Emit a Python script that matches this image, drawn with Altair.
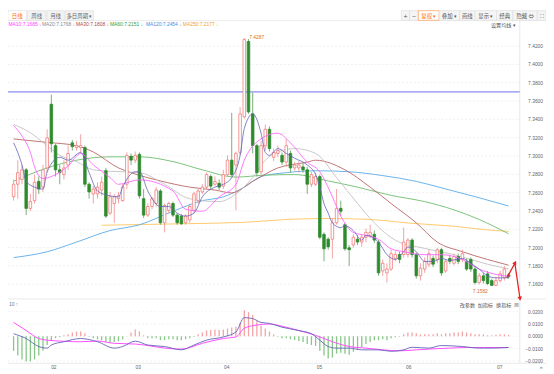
import altair as alt
import pandas as pd

# ---------------- data ----------------
OPEN = [7.2555,7.2692,7.2744,7.2849,7.2428,7.2513,7.2723,7.2660,7.2870,7.3565,
        7.3113,7.2849,7.2797,7.2902,7.3144,7.3092,7.3092,7.3092,7.2692,7.2586,
        7.2586,7.2629,7.2839,7.2376,7.2481,7.2534,7.2513,7.2692,7.2997,7.2955,
        7.3018,7.2534,7.2355,7.2449,7.2481,7.2618,7.2271,7.2407,7.2481,7.2355,
        7.2344,7.2271,7.2302,7.2407,7.2513,7.2608,7.2660,7.2776,7.2692,7.2702,
        7.2671,7.2797,7.2955,7.2902,7.3039,7.3428,7.4250,7.3460,7.3113,7.2828,
        7.3113,7.3292,7.2986,7.3028,7.3007,7.2934,7.3028,7.2870,7.2870,7.2881,
        7.2849,7.2692,7.2692,7.2776,7.2145,7.2092,7.2092,7.2271,7.2428,7.2250,
        7.1998,7.2029,7.2092,7.2061,7.2113,7.2134,7.2145,7.2061,7.1745,7.1724,
        7.1766,7.1882,7.1924,7.1924,7.1924,7.2082,7.1924,7.1692,7.1766,7.1819,
        7.1882,7.1871,7.1977,7.1745,7.1882,7.1829,7.1903,7.1871,7.1850,7.1871,
        7.1766,7.1619,7.1692,7.1713,7.1640,7.1587,7.1640,7.1671,7.1703]
HIGH = [7.2744,7.2955,7.2902,7.2870,7.2586,7.2797,7.2776,7.2902,7.3292,7.3671,
        7.3134,7.2902,7.2955,7.3113,7.3176,7.3165,7.3239,7.3113,7.2713,7.2671,
        7.2713,7.2776,7.2870,7.2608,7.2586,7.2608,7.2692,7.3039,7.3028,7.3049,
        7.3039,7.2639,7.2481,7.2555,7.2660,7.2639,7.2481,7.2502,7.2502,7.2376,
        7.2365,7.2365,7.2481,7.2608,7.2639,7.2692,7.2818,7.2797,7.2776,7.2744,
        7.2849,7.3007,7.3471,7.3049,7.3534,7.4287,7.4276,7.3692,7.3134,7.3165,
        7.3344,7.3323,7.3081,7.3113,7.3039,7.3186,7.3060,7.2934,7.2944,7.2923,
        7.2881,7.2828,7.2818,7.2797,7.2166,7.2113,7.2323,7.2639,7.2513,7.2271,
        7.2029,7.2145,7.2134,7.2145,7.2208,7.2250,7.2187,7.2082,7.1871,7.1829,
        7.1977,7.1956,7.1956,7.2218,7.2103,7.2103,7.1945,7.1829,7.1892,7.1977,
        7.1913,7.1998,7.1998,7.1871,7.1913,7.1934,7.1934,7.1977,7.1882,7.1892,
        7.1798,7.1724,7.1724,7.1745,7.1661,7.1682,7.1745,7.1798,7.1724]
LOW = [7.2513,7.2534,7.2692,7.2355,7.2397,7.2481,7.2586,7.2608,7.2818,7.3039,
       7.2776,7.2692,7.2744,7.2849,7.3060,7.3060,7.3039,7.2660,7.2534,7.2481,
       7.2534,7.2565,7.2323,7.2355,7.2271,7.2481,7.2502,7.2639,7.2902,7.2923,
       7.2534,7.2323,7.2334,7.2418,7.2449,7.2250,7.2166,7.2376,7.2334,7.2250,
       7.2250,7.2250,7.2271,7.2376,7.2481,7.2586,7.2629,7.2639,7.2671,7.2629,
       7.2639,7.2776,7.2776,7.2407,7.3007,7.3407,7.3460,7.3028,7.2776,7.2797,
       7.3060,7.3049,7.2944,7.2986,7.2902,7.2881,7.2818,7.2839,7.2818,7.2818,
       7.2586,7.2660,7.2671,7.2092,7.1850,7.1977,7.1882,7.2250,7.2344,7.1966,
       7.1798,7.1998,7.2029,7.2008,7.2061,7.2103,7.2050,7.1692,7.1692,7.1619,
       7.1745,7.1850,7.1829,7.1892,7.1892,7.1892,7.1661,7.1640,7.1724,7.1787,
       7.1787,7.1829,7.1692,7.1724,7.1819,7.1808,7.1819,7.1840,7.1745,7.1734,
       7.1598,7.1598,7.1608,7.1590,7.1582,7.1590,7.1619,7.1640,7.1661]
CLOSE = [7.2692,7.2818,7.2849,7.2428,7.2502,7.2713,7.2639,7.2849,7.3197,7.3134,
         7.2849,7.2818,7.2870,7.3028,7.3102,7.3113,7.3113,7.2692,7.2608,7.2639,
         7.2660,7.2713,7.2344,7.2555,7.2555,7.2565,7.2660,7.3007,7.2955,7.3007,
         7.2565,7.2355,7.2449,7.2534,7.2629,7.2271,7.2460,7.2481,7.2355,7.2271,
         7.2260,7.2344,7.2449,7.2586,7.2618,7.2660,7.2797,7.2671,7.2723,7.2660,
         7.2797,7.2955,7.2797,7.3028,7.3460,7.4271,7.3481,7.3113,7.2818,7.3113,
         7.3292,7.3081,7.3039,7.3060,7.2934,7.3113,7.2870,7.2902,7.2902,7.2849,
         7.2692,7.2797,7.2776,7.2113,7.1987,7.2008,7.2271,7.2428,7.2397,7.1987,
         7.1977,7.2113,7.2061,7.2113,7.2166,7.2166,7.2082,7.1724,7.1829,7.1766,
         7.1934,7.1924,7.1871,7.2061,7.2082,7.1924,7.1692,7.1777,7.1850,7.1934,
         7.1819,7.1977,7.1724,7.1850,7.1850,7.1903,7.1850,7.1934,7.1766,7.1766,
         7.1619,7.1692,7.1640,7.1608,7.1587,7.1640,7.1713,7.1766,7.1682]

MA5_I = [0,2,3,5,7,8,11,13,16,18,20,23,25,26,29,30,32,35,37,39,41,43,45,48,50,52,54,55,57,59,60,61,63,65,67,70,72,73,74,75,76,78,79,81,83,84,87,89,91,93,94,96,98,100,102,104,107,109,111,113,115,118]
MA5_V = [7.3144,7.2902,7.2723,7.2660,7.2639,7.2828,7.2986,7.2954,7.3039,7.2818,7.2618,7.2565,7.2554,7.2660,7.2828,7.2828,7.2618,7.2449,7.2449,7.2376,7.2344,7.2376,7.2554,7.2660,7.2691,7.2765,7.3007,7.3300,7.3460,7.3249,7.3039,7.3007,7.3081,7.3028,7.2976,7.2902,7.2797,7.2660,7.2481,7.2376,7.2270,7.2218,7.2239,7.2186,7.2081,7.2133,7.2060,7.1923,7.1871,7.1955,7.2007,7.1955,7.1849,7.1849,7.1881,7.1860,7.1881,7.1828,7.1765,7.1691,7.1670,7.1670]
MA10_I = [0,2,4,5,7,10,13,16,19,23,25,30,38,41,45,49,53,55,58,63,66,70,73,76,78,81,84,87,90,93,98,102,107,111,118]
MA10_V = [7.3333,7.3218,7.3039,7.2881,7.2754,7.2797,7.2891,7.3028,7.2902,7.2765,7.2691,7.2740,7.2618,7.2418,7.2397,7.2554,7.2691,7.2954,7.3154,7.3249,7.3144,7.2933,7.2828,7.2554,7.2344,7.2165,7.2133,7.2091,7.1986,7.1955,7.1923,7.1923,7.1870,7.1765,7.1685]
MA20_I = [0,4,7,11,15,19,23,30,36,42,49,53,57,60,63,67,72,77,82,86,91,98,105,113,118]
MA20_V = [7.3344,7.3254,7.3149,7.3007,7.2939,7.2849,7.2833,7.2818,7.2691,7.2533,7.2502,7.2586,7.2765,7.2954,7.3044,7.3081,7.3028,7.2765,7.2481,7.2270,7.2081,7.1991,7.1923,7.1818,7.1768]
MA30_I = [0,8,15,19,25,28,35,42,48,52,57,63,70,72,79,85,90,96,101,107,113,118]
MA30_V = [7.3186,7.3149,7.3112,7.3044,7.2870,7.2818,7.2728,7.2660,7.2628,7.2597,7.2723,7.2870,7.2933,7.2954,7.2849,7.2660,7.2481,7.2270,7.2060,7.1955,7.1870,7.1808]
MA60_I = [0,8,15,19,23,30,38,45,53,60,67,75,82,90,98,105,111,118]
MA60_V = [7.2723,7.2870,7.2954,7.2981,7.2991,7.2991,7.2939,7.2849,7.2770,7.2791,7.2797,7.2728,7.2660,7.2570,7.2502,7.2412,7.2307,7.2151]
MA120_I = [0,8,15,23,30,38,45,50,55,59,65,72,80,88,96,104,111,118]
MA120_V = [7.1891,7.1955,7.2060,7.2186,7.2249,7.2397,7.2512,7.2554,7.2660,7.2776,7.2818,7.2839,7.2828,7.2786,7.2723,7.2628,7.2544,7.2454]
MA250_I = [21,40,55,65,75,85,95,105,112,118]
MA250_V = [7.2244,7.2260,7.2276,7.2307,7.2318,7.2307,7.2265,7.2233,7.2197,7.2177]

DIF_I = [0,3,6,8,9,12,16,20,24,26,29,32,36,40,43,46,50,53,55,57,59,61,64,68,71,73,75,77,80,83,87,90,93,95,99,102,107,111,114,118]
DIF_V = [0.0021,-0.0018,-0.0083,-0.0096,-0.0071,-0.0044,-0.0018,-0.0044,-0.0096,-0.0083,-0.0039,-0.0071,-0.0083,-0.0110,-0.0071,-0.0031,-0.0005,0.0035,0.0152,0.0144,0.0113,0.0105,0.0074,0.0047,0.0021,-0.0031,-0.0083,-0.0096,-0.0096,-0.0110,-0.0110,-0.0122,-0.0110,-0.0089,-0.0096,-0.0075,-0.0083,-0.0096,-0.0096,-0.0091]
DEA_I = [0,3,6,8,16,20,24,29,32,36,40,45,50,53,55,58,61,64,68,72,76,80,84,88,92,96,100,104,108,112,118]
DEA_V = [0.0113,0.0047,-0.0018,-0.0031,-0.0044,-0.0039,-0.0057,-0.0063,-0.0075,-0.0096,-0.0104,-0.0057,-0.0018,-0.0005,0.0066,0.0092,0.0100,0.0082,0.0047,0.0008,-0.0044,-0.0083,-0.0096,-0.0110,-0.0118,-0.0110,-0.0102,-0.0096,-0.0091,-0.0091,-0.0091]
HIST = [-0.0118,-0.0157,-0.0188,-0.0204,-0.0204,-0.0188,-0.0157,-0.0118,-0.0071,-0.0039,
        -0.0016,-0.0008,0.0008,0.0016,0.0031,0.0039,0.0039,0.0024,-0.0004,-0.0016,
        -0.0024,-0.0031,-0.0047,-0.0055,-0.0047,-0.0039,-0.0024,0.0003,0.0031,0.0055,
        0.0039,0.0008,-0.0016,-0.0016,-0.0016,-0.0031,-0.0031,-0.0024,-0.0024,-0.0031,
        -0.0031,-0.0024,-0.0016,-0.0004,0.0016,0.0031,0.0047,0.0051,0.0055,0.0051,
        0.0055,0.0063,0.0071,0.0078,0.0110,0.0212,0.0196,0.0173,0.0126,0.0086,
        0.0063,0.0039,0.0016,-0.0003,-0.0016,-0.0016,-0.0024,-0.0031,-0.0039,-0.0047,
        -0.0063,-0.0071,-0.0078,-0.0118,-0.0157,-0.0180,-0.0173,-0.0141,-0.0133,-0.0141,
        -0.0149,-0.0125,-0.0110,-0.0086,-0.0063,-0.0047,-0.0031,-0.0031,-0.0024,-0.0031,
        -0.0016,-0.0008,-0.0004,0.0016,0.0031,0.0031,0.0024,0.0016,0.0016,0.0016,
        0.0016,0.0024,0.0016,0.0024,0.0024,0.0031,0.0031,0.0039,0.0031,0.0024,
        0.0016,0.0016,0.0016,0.0008,0.0008,0.0012,0.0016,0.0016,0.0012]

PRICE_TICKS = [7.42,7.40,7.38,7.36,7.34,7.32,7.30,7.28,7.26,7.24,7.22,7.20,7.18,7.16]
MACD_TICKS = [0.02,0.01,0.0,-0.01,-0.02]
LEVEL = [7.37]
MONTHS = ["02","03","04","05","06","07"]
MONTH_IDX = [9.6,29.7,50.8,72.9,94.2,115.9]
MA_NAMES = ["MA10","MA20","MA30","MA60","MA120","MA250"]
MA_LAST = [7.1685,7.1768,7.1808,7.2151,7.2454,7.2177]
HI_MARK = {"i": [55], "p": [7.4287]}
LO_MARK = {"i": [114], "p": [7.1582]}
ANNOT_I = [117.6,119.5,120.7]
ANNOT_P = [7.1670,7.1829,7.1450]

# ---------------- layout / style ----------------
W, H = 546, 366
SX, SY = 546/554, 366/374
def cx(v): return v*SX
def cy(v): return v*SY
X_DOM = [-0.159, 125.75]
P_DOM = [7.06495, 7.45863]
M_DOM = [-0.028471, 0.264863]
CJK = "Noto Sans CJK SC"
NUM = "Liberation Sans"
RED, RED_W = "#f07c7c", "#f29a9a"
GREEN, GREEN_W = "#2e8b2e", "#6aa86a"
MA_COL = ["#ff40ff","#8a8a8a","#b04848","#2f9e2f","#3b8fe0","#f3a21f"]
LINE_COL = {"ma5":"#6262b8","ma10":"#ff66ff","ma20":"#c2c2c2","ma30":"#bb6464",
            "ma60":"#6cbc6c","ma120":"#5aaae8","ma250":"#ffc45a"}
RIGHT = cx(527)

def xenc(f="i"):
    return alt.X(f"{f}:Q", scale=alt.Scale(domain=X_DOM, nice=False, zero=False), axis=None)
def penc(f):
    return alt.Y(f"{f}:Q", scale=alt.Scale(domain=P_DOM, nice=False, zero=False), axis=None)
def menc(f):
    return alt.Y(f"{f}:Q", scale=alt.Scale(domain=M_DOM, nice=False, zero=False), axis=None)

ONE = alt.Data(values=[{"k": 1}])
def ui_text(txt, x, y, size=5.5, color="#555", font=CJK, align="center"):
    return alt.Chart(ONE).mark_text(text=txt, fontSize=size, color=color, font=font,
                                    align=align, baseline="middle").encode(
        x=alt.value(x), y=alt.value(y))
def ui_rect(x1, x2, y1, y2, fill, stroke):
    return alt.Chart(ONE).mark_rect(fill=fill, stroke=stroke, strokeWidth=0.6).encode(
        x=alt.value(x1), x2=alt.value(x2), y=alt.value(y1), y2=alt.value(y2))
def ui_rule(x1, x2, y1, y2, color, width=0.7):
    return alt.Chart(ONE).mark_rule(color=color, strokeWidth=width).encode(
        x=alt.value(x1), x2=alt.value(x2), y=alt.value(y1), y2=alt.value(y2))

layers = []

# frame lines
layers.append(ui_rule(0, W, cy(10.3), cy(10.3), "#e2e2e2"))
layers.append(ui_rule(0, W, cy(299), cy(299), "#e2e2e2"))
layers.append(ui_rule(0, W, cy(365.7), cy(365.7), "#dddddd"))
layers.append(ui_rule(RIGHT, RIGHT, cy(10.3), cy(365.7), "#dddddd"))

# grid + axis labels (price)
pt = pd.DataFrame({"t": PRICE_TICKS})
layers.append(alt.Chart(pt).mark_rule(color="#e9e9e9", strokeDash=[2, 2], strokeWidth=0.7).encode(
    y=penc("t"), x=alt.value(0), x2=alt.value(RIGHT)))
layers.append(alt.Chart(pt).mark_text(align="right", baseline="middle", fontSize=5, font=NUM,
                                      color="#666").encode(
    y=penc("t"), x=alt.value(cx(551)), text=alt.Text("t:Q", format=".4f")))

mt = pd.DataFrame({"t": MACD_TICKS})
layers.append(alt.Chart(mt).mark_rule(color="#ececec", strokeDash=[2, 2], strokeWidth=0.7).encode(
    y=menc("t"), x=alt.value(0), x2=alt.value(RIGHT)))
layers.append(alt.Chart(mt).mark_text(align="right", baseline="middle", fontSize=5, font=NUM,
                                      color="#666").encode(
    y=menc("t"), x=alt.value(cx(551)), text=alt.Text("t:Q", format=".4f")))

# level line
layers.append(alt.Chart(pd.DataFrame({"v": LEVEL})).mark_rule(color="#8c8cf2", strokeWidth=1.4).encode(
    y=penc("v"), x=alt.value(0), x2=alt.value(RIGHT)))

# moving averages (long ones first)
for key, I, V in [("ma250", MA250_I, MA250_V), ("ma120", MA120_I, MA120_V),
                  ("ma60", MA60_I, MA60_V), ("ma30", MA30_I, MA30_V),
                  ("ma20", MA20_I, MA20_V)]:
    df = pd.DataFrame({"i": I, "v": V})
    layers.append(alt.Chart(df).mark_line(color=LINE_COL[key], strokeWidth=0.9,
                                          interpolate="monotone").encode(x=xenc(), y=penc("v")))

# candles
N = len(OPEN)
assert len(HIGH) == N and len(LOW) == N and len(CLOSE) == N and len(HIST) == N
cd = pd.DataFrame({"i": list(range(N)), "o": OPEN, "h": HIGH, "l": LOW, "c": CLOSE})
UP = "datum.c >= datum.o"
layers.append(alt.Chart(cd).mark_rule(strokeWidth=0.9).encode(
    x=xenc(), y=penc("l"), y2="h:Q",
    color=alt.condition(UP, alt.value(RED_W), alt.value(GREEN_W))))
layers.append(alt.Chart(cd).mark_bar(size=2.6, strokeWidth=0.8).encode(
    x=xenc(), y=penc("o"), y2="c:Q",
    fill=alt.condition(UP, alt.value("#ffffff"), alt.value(GREEN)),
    stroke=alt.condition(UP, alt.value(RED), alt.value(GREEN))))

for key, I, V, sw in [("ma10", MA10_I, MA10_V, 0.9), ("ma5", MA5_I, MA5_V, 0.8)]:
    df = pd.DataFrame({"i": I, "v": V})
    layers.append(alt.Chart(df).mark_line(color=LINE_COL[key], strokeWidth=sw,
                                          interpolate="monotone").encode(x=xenc(), y=penc("v")))

# extreme labels
layers.append(alt.Chart(pd.DataFrame(HI_MARK)).mark_text(align="left", baseline="middle", dx=5, dy=-1,
                                                         fontSize=5, font=NUM, color="#e0702a").encode(
    x=xenc(), y=penc("p"), text=alt.Text("p:Q", format=".4f")))
layers.append(alt.Chart(pd.DataFrame(LO_MARK)).mark_text(align="right", baseline="middle", dx=-4, dy=5.5,
                                                         fontSize=5, font=NUM, color="#e0702a").encode(
    x=xenc(), y=penc("p"), text=alt.Text("p:Q", format=".4f")))

# red annotation arrow
an = pd.DataFrame({"i": ANNOT_I, "p": ANNOT_P, "k": [0, 1, 2]})
layers.append(alt.Chart(an).mark_line(color="#e52424", strokeWidth=1.3).encode(
    x=xenc(), y=penc("p"), order="k:Q"))
layers.append(alt.Chart(an[an.k == 1]).mark_point(shape="triangle", filled=True, size=22, color="#e52424",
                                                  angle=29, opacity=1).encode(x=xenc(), y=penc("p")))
layers.append(alt.Chart(an[an.k == 2]).mark_point(shape="triangle", filled=True, size=22, color="#e52424",
                                                  angle=172, opacity=1).encode(x=xenc(), y=penc("p")))

# MACD
hd = pd.DataFrame({"i": list(range(N)), "h": HIST})
layers.append(alt.Chart(hd).mark_rule(strokeWidth=1.3).encode(
    x=xenc(), y=menc("h"), y2=alt.datum(0),
    color=alt.condition("datum.h > 0", alt.value("#f3a3a3"), alt.value("#86c686"))))
layers.append(alt.Chart(pd.DataFrame({"i": DEA_I, "v": DEA_V})).mark_line(
    color="#ff4dff", strokeWidth=1, interpolate="monotone").encode(x=xenc(), y=menc("v")))
layers.append(alt.Chart(pd.DataFrame({"i": DIF_I, "v": DIF_V})).mark_line(
    color="#6262b8", strokeWidth=0.9, interpolate="monotone").encode(x=xenc(), y=menc("v")))

# month labels
md = pd.DataFrame({"i": MONTH_IDX, "m": MONTHS})
layers.append(alt.Chart(md).mark_text(baseline="middle", fontSize=5, font=NUM, color="#666").encode(
    x=xenc(), y=alt.value(cy(369.5)), text="m:N"))
layers.append(ui_text("»", cx(549), cy(369.3), size=6, color="#888", font=NUM))

# top tabs
tabs = [("日线", 0, 19), ("周线", 20, 39), ("月线", 40, 58), ("多日周期 ▾", 59, 88)]
for n, (t, a, b) in enumerate(tabs):
    active = n == 0
    layers.append(ui_rect(cx(a), cx(b), 0, cy(10), "#ffffff" if active else "#f3f3f3", "#dcdcdc"))
    layers.append(ui_text(t, cx((a + b) / 2), cy(5.2), color="#ff6a00" if active else "#666"))

btns = [("+", 405, 413.5), ("−", 413.5, 422.5), ("复权 ▾", 422.5, 444), ("叠加 ▾", 444, 465),
        ("画线", 465, 481), ("显示 ▾", 481, 503), ("经典", 503, 520), ("隐藏 ⇔", 520, 545),
        ("⛶", 545, 554)]
for t, a, b in btns:
    hot = t.startswith("复权")
    layers.append(ui_rect(cx(a), cx(b), 0, cy(10), "#ffffff" if hot else "#f5f5f5",
                          "#ff8a3a" if hot else "#dcdcdc"))
    layers.append(ui_text(t, cx((a + b) / 2), cy(5.2), color="#ff6a00" if hot else "#555",
                          font=("DejaVu Sans" if t in ("+", "−", "⛶") else CJK)))

layers.append(ui_text("设置均线 ▾", cx(510), cy(14.5), size=5.2, color="#555"))

# MA legend
LEG_X = [0.5, 35, 70, 105, 142, 180]
for name, val, col, x0 in zip(MA_NAMES, MA_LAST, MA_COL, LEG_X):
    layers.append(ui_text(f"{name}:{val:.4f} ↓", cx(x0), cy(14), size=5, color=col,
                          font=NUM, align="left"))

# MACD header
layers.append(ui_text("10 ↑", cx(1), cy(304.5), size=5, color="#777", font=NUM, align="left"))
for t, xc in [("改参数", 473), ("加指标", 491.5), ("换指标", 510.5)]:
    layers.append(ui_text(t, cx(xc), cy(305), size=5.2, color="#555"))
layers.append(ui_text("⊠", cx(523.5), cy(305), size=6, color="#888", font="DejaVu Sans"))

chart = alt.layer(*layers).resolve_scale(y="independent").properties(
    width=W, height=H, padding=0, background="#ffffff",
    autosize=alt.AutoSizeParams(type="none"),
).configure_view(stroke=None)

chart.save("out.html", embed_options={"renderer": "svg", "actions": False})
